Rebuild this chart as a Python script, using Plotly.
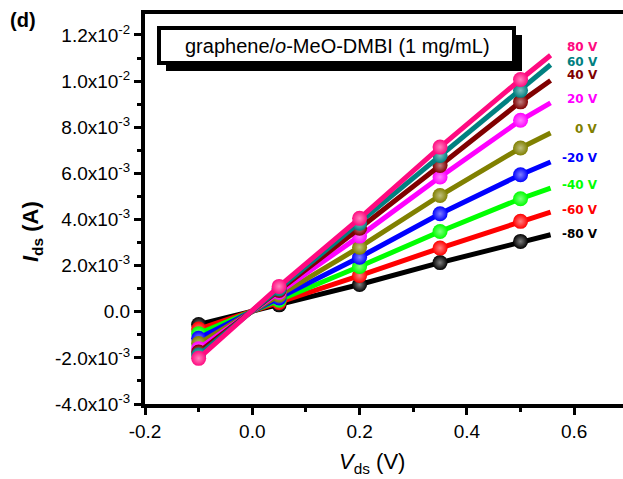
import plotly.graph_objects as go

# ---- data ----
vds = [-0.1, 0.05, 0.2, 0.35, 0.5]
x_end = 0.556  # where the drawn lines stop
gate_labels = ["-80 V", "-60 V", "-40 V", "-20 V", "0 V", "20 V", "40 V", "60 V", "80 V"]
colors = ["#000000", "#FF0000", "#00FF00", "#0000FF", "#808000", "#FF00FF", "#800000", "#008080", "#FF0A80"]
# Ids in mA at vds points
ids_m80 = [-0.55, 0.30, 1.18, 2.13, 3.05]
ids_m60 = [-0.75, 0.40, 1.57, 2.76, 3.92]
ids_m40 = [-0.95, 0.50, 1.96, 3.48, 4.90]
ids_m20 = [-1.15, 0.60, 2.36, 4.25, 5.94]
ids_0 = [-1.38, 0.72, 2.80, 5.04, 7.10]
ids_20 = [-1.60, 0.85, 3.28, 5.84, 8.30]
ids_40 = [-1.75, 0.92, 3.62, 6.34, 9.10]
ids_60 = [-1.88, 1.00, 3.84, 6.78, 9.60]
ids_80 = [-2.02, 1.10, 4.05, 7.14, 10.07]
# line end values (mA) at x_end
ids_end = [3.34, 4.32, 5.36, 6.49, 7.75, 9.06, 10.03, 10.71, 11.12]
# label heights (mA)
label_y = [3.38, 4.43, 5.51, 6.68, 7.94, 9.24, 10.28, 10.84, 11.46]
series = [ids_m80, ids_m60, ids_m40, ids_m20, ids_0, ids_20, ids_40, ids_60, ids_80]

yticks = [-4e-3, -2e-3, 0.0, 2e-3, 4e-3, 6e-3, 8e-3, 1.0e-2, 1.2e-2]
yticktext = ["-4.0x10<sup>-3</sup>", "-2.0x10<sup>-3</sup>", "0.0", "2.0x10<sup>-3</sup>",
             "4.0x10<sup>-3</sup>", "6.0x10<sup>-3</sup>", "8.0x10<sup>-3</sup>",
             "1.0x10<sup>-2</sup>", "1.2x10<sup>-2</sup>"]
xticks = [-0.2, 0.0, 0.2, 0.4, 0.6]
xticktext = ["-0.2", "0.0", "0.2", "0.4", "0.6"]

W, H = 623, 479
ML, MR, MT, MB = 145, 0, 14, 75
PW, PH = W - ML - MR, H - MT - MB

def px(xp):
    return (xp - ML) / PW

def py(yp):
    return (H - MB - yp) / PH

def tint(hexcol, f):
    r, g, b = int(hexcol[1:3], 16), int(hexcol[3:5], 16), int(hexcol[5:7], 16)
    return "rgb(%d,%d,%d)" % tuple(int(c + (255 - c) * f) for c in (r, g, b))

FONT = "Liberation Sans, Arial, sans-serif"
fig = go.Figure()

for lab, col, ys, ye in zip(gate_labels, colors, series, ids_end):
    yy = [v * 1e-3 for v in ys]
    fig.add_trace(go.Scatter(
        x=vds + [x_end], y=yy + [ye * 1e-3], mode="lines",
        line=dict(color=col, width=5), showlegend=False, hoverinfo="skip"))
    fig.add_trace(go.Scatter(
        x=vds, y=yy, mode="markers",
        marker=dict(color=col, size=15, line=dict(width=0),
                    gradient=dict(type="radial", color=tint(col, 0.5))),
        showlegend=False, name=lab))

for lab, col, ly in zip(gate_labels, colors, label_y):
    fig.add_annotation(x=0.648, y=ly * 1e-3, xref="x", yref="y", text="<b>%s</b>" % lab,
                       showarrow=False, xanchor="right", yanchor="middle",
                       font=dict(family="DejaVu Sans", size=12, color=col))

# legend-like title box
fig.add_shape(type="rect", xref="paper", yref="paper",
              x0=px(166), x1=px(522), y0=py(71), y1=py(35),
              fillcolor="black", line=dict(width=0))
fig.add_shape(type="rect", xref="paper", yref="paper",
              x0=px(159), x1=px(514), y0=py(63), y1=py(28),
              fillcolor="white", line=dict(color="black", width=4))
fig.add_annotation(x=px(337), y=py(46), xref="paper", yref="paper",
                   text="graphene/<i>o</i>-MeO-DMBI (1 mg/mL)", showarrow=False,
                   xanchor="center", yanchor="middle",
                   font=dict(family=FONT, size=20, color="black"))

fig.add_annotation(x=px(8), y=py(20), xref="paper", yref="paper", text="<b>(d)</b>",
                   showarrow=False, xanchor="left", yanchor="middle",
                   font=dict(family=FONT, size=20, color="black"))
fig.add_annotation(x=px(32), y=py(232), xref="paper", yref="paper",
                   text="<b><i>I</i><sub>ds</sub> (A)</b>", textangle=-90,
                   showarrow=False, xanchor="center", yanchor="middle",
                   font=dict(family=FONT, size=22, color="black"))
fig.add_annotation(x=px(372), y=py(463), xref="paper", yref="paper",
                   text="<i>V</i><sub>ds</sub> (V)",
                   showarrow=False, xanchor="center", yanchor="middle",
                   font=dict(family=FONT, size=22, color="black"))

fig.update_layout(
    width=W, height=H, margin=dict(l=ML, r=MR, t=MT, b=MB, pad=0),
    paper_bgcolor="white", plot_bgcolor="white",
    font=dict(family=FONT, color="black"),
    xaxis=dict(range=[-0.2, 0.691], tickmode="array", tickvals=xticks, ticktext=xticktext,
               showgrid=False, zeroline=False, showline=True, linecolor="black", linewidth=4,
               mirror=True, ticks="outside", ticklen=7, tickwidth=3, tickcolor="black",
               tickfont=dict(family=FONT, size=19, color="black"),
               minor=dict(tickmode="linear", tick0=-0.2, dtick=0.1, ticks="outside",
                          ticklen=4, tickwidth=3, tickcolor="black")),
    yaxis=dict(range=[-4e-3, 12.91e-3], tickmode="array", tickvals=yticks, ticktext=yticktext,
               showgrid=False, zeroline=False, showline=True, linecolor="black", linewidth=4,
               mirror=False, ticks="outside", ticklen=7, tickwidth=3, tickcolor="black",
               tickfont=dict(family=FONT, size=19, color="black"),
               minor=dict(tickmode="linear", tick0=-4e-3, dtick=1e-3, ticks="outside",
                          ticklen=4, tickwidth=3, tickcolor="black")),
)

fig.write_html("out.html")
